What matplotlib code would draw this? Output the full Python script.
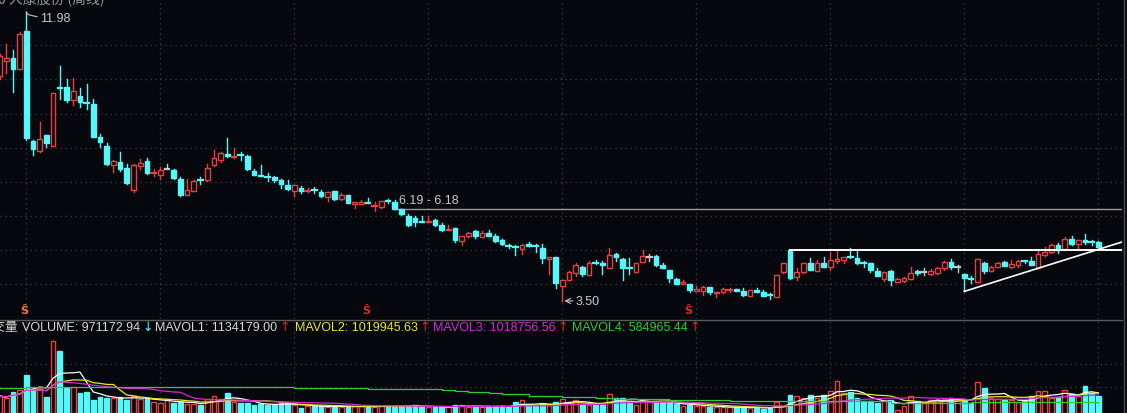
import matplotlib
matplotlib.use("Agg")
import matplotlib.pyplot as plt
from matplotlib.patches import Rectangle
from matplotlib.lines import Line2D
import numpy as np
import pandas as pd

plt.rcParams['font.family'] = ['Liberation Sans', 'Noto Sans CJK SC', 'DejaVu Sans']

# weekly candles, oldest first (yuan)
opens = [10.09, 10.53, 10.62, 10.32, 11.42, 8.19, 7.89, 8.36, 8.04, 9.79,
         9.78, 9.39, 9.51, 9.32, 9.29, 8.31, 8.05, 7.48, 7.58, 7.41,
         6.77, 7.46, 7.62, 7.25, 7.19, 7.38, 7.35, 7.09, 6.60, 6.74,
         7.07, 7.04, 7.48, 7.63, 7.82, 7.70, 7.78, 7.76, 7.30, 7.21,
         7.15, 7.14, 7.06, 6.91, 6.74, 6.81, 6.71, 6.77, 6.71, 6.54,
         6.73, 6.50, 6.62, 6.35, 6.35, 6.38, 6.29, 6.26, 6.44, 6.40,
         6.21, 6.00, 5.94, 5.86, 5.81, 5.88, 5.74, 5.57, 5.64, 5.27,
         5.40, 5.54, 5.39, 5.50, 5.42, 5.29, 5.13, 5.08, 5.01, 5.17,
         5.12, 5.05, 4.74, 4.78, 3.95, 4.10, 4.31, 4.49, 4.27, 4.63,
         4.61, 4.47, 4.88, 4.74, 4.47, 4.34, 4.64, 4.80, 4.82, 4.54,
         4.42, 4.13, 4.00, 4.00, 3.80, 3.80, 3.90, 3.72, 3.77, 3.81,
         3.85, 3.80, 3.65, 3.82, 3.77, 3.69, 3.62, 4.36, 5.00, 4.21,
         4.34, 4.62, 4.39, 4.62, 4.51, 4.68, 4.70, 4.79, 4.76, 4.63,
         4.62, 4.39, 4.15, 4.39, 4.06, 4.09, 4.14, 4.37, 4.36, 4.29,
         4.32, 4.46, 4.64, 4.51, 4.29, 4.15, 4.06, 4.60, 4.39, 4.51,
         4.64, 4.49, 4.54, 4.67, 4.66, 4.47, 4.84, 4.93, 5.14, 5.01,
         5.33, 5.16, 5.30, 5.25, 5.24]
highs = [10.75, 11.03, 10.85, 11.38, 11.98, 8.22, 8.74, 8.38, 9.60, 10.38,
         10.01, 10.03, 9.76, 9.88, 9.42, 8.41, 8.12, 7.63, 7.87, 7.52,
         7.52, 7.67, 7.68, 7.38, 7.43, 7.51, 7.38, 7.14, 7.09, 7.05,
         7.13, 7.52, 7.94, 7.87, 8.29, 7.99, 7.87, 7.77, 7.38, 7.48,
         7.24, 7.17, 7.09, 7.04, 6.89, 6.88, 6.81, 6.84, 6.77, 6.70,
         6.73, 6.68, 6.62, 6.40, 6.45, 6.52, 6.40, 6.43, 6.50, 6.45,
         6.21, 6.06, 6.00, 6.00, 6.00, 5.91, 5.78, 5.74, 5.64, 5.40,
         5.53, 5.59, 5.56, 5.57, 5.47, 5.32, 5.18, 5.13, 5.16, 5.23,
         5.18, 5.18, 4.80, 4.80, 4.10, 4.38, 4.61, 4.52, 4.67, 4.69,
         4.67, 5.06, 4.91, 4.76, 4.76, 4.62, 5.00, 4.88, 4.85, 4.61,
         4.42, 4.17, 4.10, 4.00, 3.95, 3.93, 3.90, 3.77, 3.88, 3.88,
         3.86, 3.87, 3.82, 3.88, 3.81, 3.73, 4.27, 4.62, 5.00, 4.48,
         4.62, 4.75, 4.69, 4.80, 4.93, 5.00, 4.79, 5.06, 4.96, 4.66,
         4.62, 4.46, 4.35, 4.42, 4.17, 4.20, 4.49, 4.41, 4.46, 4.44,
         4.49, 4.68, 4.73, 4.54, 4.30, 4.22, 4.73, 4.64, 4.53, 4.64,
         4.68, 4.69, 4.69, 4.70, 4.80, 5.00, 5.07, 5.16, 5.21, 5.38,
         5.40, 5.28, 5.45, 5.28, 5.26]
lows = [10.00, 10.18, 9.62, 10.30, 8.22, 7.77, 7.87, 8.03, 8.04, 9.42,
        9.35, 9.26, 9.20, 9.12, 8.30, 8.02, 7.48, 7.29, 7.30, 6.93,
        6.71, 7.38, 7.23, 7.17, 7.09, 7.38, 7.07, 6.58, 6.60, 6.73,
        6.94, 7.01, 7.46, 7.58, 7.73, 7.70, 7.65, 7.34, 7.19, 7.16,
        7.01, 7.00, 6.81, 6.77, 6.57, 6.68, 6.71, 6.68, 6.55, 6.42,
        6.45, 6.45, 6.36, 6.23, 6.35, 6.37, 6.15, 6.23, 6.38, 6.20,
        6.03, 5.69, 5.69, 5.81, 5.81, 5.69, 5.54, 5.57, 5.24, 5.13,
        5.38, 5.36, 5.37, 5.42, 5.24, 5.13, 5.05, 4.86, 4.88, 5.10,
        4.95, 4.62, 4.29, 3.87, 3.50, 4.10, 4.24, 4.23, 4.27, 4.59,
        4.29, 4.47, 4.68, 4.12, 4.29, 4.34, 4.64, 4.68, 4.53, 4.46,
        4.05, 4.00, 4.00, 3.76, 3.80, 3.68, 3.71, 3.62, 3.74, 3.77,
        3.80, 3.65, 3.65, 3.77, 3.65, 3.55, 3.62, 4.32, 4.14, 4.10,
        4.33, 4.41, 4.39, 4.49, 4.41, 4.62, 4.62, 4.77, 4.58, 4.49,
        4.36, 4.22, 4.08, 3.97, 4.06, 4.06, 4.14, 4.26, 4.26, 4.26,
        4.29, 4.41, 4.44, 4.36, 3.78, 4.02, 4.06, 4.33, 4.39, 4.51,
        4.52, 4.46, 4.51, 4.60, 4.54, 4.47, 4.82, 4.90, 4.90, 5.01,
        5.13, 5.04, 5.17, 5.14, 5.09]
closes = [10.68, 10.62, 10.30, 11.33, 8.28, 7.95, 8.26, 8.12, 9.59, 9.74,
          9.39, 9.67, 9.34, 9.30, 8.31, 8.15, 7.51, 7.62, 7.36, 6.97,
          7.50, 7.55, 7.24, 7.27, 7.33, 7.38, 7.12, 6.62, 6.77, 7.01,
          7.05, 7.40, 7.68, 7.84, 7.74, 7.73, 7.76, 7.36, 7.21, 7.16,
          7.13, 7.06, 6.94, 6.79, 6.89, 6.72, 6.74, 6.75, 6.58, 6.70,
          6.50, 6.62, 6.37, 6.40, 6.40, 6.37, 6.31, 6.43, 6.43, 6.21,
          6.06, 5.72, 5.83, 5.81, 5.86, 5.74, 5.59, 5.62, 5.30, 5.40,
          5.50, 5.40, 5.50, 5.42, 5.27, 5.16, 5.11, 5.06, 5.15, 5.11,
          5.10, 4.76, 4.78, 4.02, 4.10, 4.34, 4.54, 4.29, 4.61, 4.61,
          4.54, 4.85, 4.79, 4.47, 4.45, 4.62, 4.82, 4.80, 4.56, 4.46,
          4.17, 4.01, 4.05, 3.82, 3.85, 3.90, 3.75, 3.77, 3.85, 3.83,
          3.80, 3.67, 3.82, 3.77, 3.65, 3.67, 4.26, 4.61, 4.17, 4.35,
          4.62, 4.42, 4.62, 4.51, 4.71, 4.73, 4.78, 4.77, 4.61, 4.61,
          4.42, 4.24, 4.35, 4.10, 4.14, 4.17, 4.32, 4.31, 4.36, 4.39,
          4.47, 4.64, 4.51, 4.51, 4.17, 4.13, 4.73, 4.37, 4.49, 4.60,
          4.52, 4.57, 4.67, 4.65, 4.54, 4.88, 4.95, 5.13, 4.99, 5.33,
          5.17, 5.28, 5.22, 5.23, 5.09]
# weekly volume, 10k lots
volumes = [95, 84, 118, 129, 213, 129, 140, 90, 403, 347,
           140, 146, 112, 118, 73, 90, 84, 84, 90, 73,
           95, 78, 78, 62, 56, 78, 56, 62, 50, 50,
           45, 78, 95, 78, 112, 62, 56, 56, 45, 50,
           45, 45, 56, 56, 45, 28, 39, 39, 39, 34,
           39, 34, 34, 39, 39, 34, 34, 41, 38, 38,
           38, 38, 45, 32, 32, 32, 35, 32, 45, 45,
           32, 38, 32, 38, 38, 38, 32, 60, 73, 41,
           41, 50, 45, 60, 78, 60, 73, 45, 45, 45,
           45, 106, 82, 82, 69, 45, 69, 60, 60, 54,
           54, 50, 41, 45, 41, 41, 32, 32, 32, 32,
           32, 34, 28, 28, 24, 28, 60, 41, 102, 94,
           84, 102, 84, 102, 125, 181, 112, 118, 84, 66,
           66, 56, 69, 74, 18, 41, 97, 66, 56, 71,
           71, 78, 84, 74, 74, 56, 174, 140, 84, 78,
           71, 71, 60, 69, 97, 125, 125, 84, 88, 130,
           106, 94, 153, 112, 97]
# long volume average (MAVOL4) read at the weeks where it steps
ma4_weeks = [0, 4, 44, 55, 66, 68, 70, 73, 75, 79, 82, 84, 89, 92, 100, 109, 133, 145, 164]
ma4_vals = [138, 146, 138, 134, 129, 122, 116, 110, 105, 97, 94, 88, 82, 78, 73, 66, 56, 60, 58.5]

legend_items = [("VOLUME: 971172.94", "#d8d8d8", "↓"),
                ("MAVOL1: 1134179.00", "#d8d8d8", "↑"),
                ("MAVOL2: 1019945.63", "#e6e62e", "↑"),
                ("MAVOL3: 1018756.56", "#d22ad2", "↑"),
                ("MAVOL4: 584965.44", "#2ecc2e", "↑")]

BG = "#07070e"
RED = "#e84040"
CYAN = "#54f8f8"
GRAY = "#c8c8c8"
GRID = "#3e3e46"

W, H = 1127, 414
fig = plt.figure(figsize=(W / 100, H / 100), dpi=100, facecolor=BG)
right = 1122 / W
ax = fig.add_axes([0, 1 - 320 / H, right, 320 / H], facecolor=BG)
axv = fig.add_axes([0, 0, right, 93 / H], facecolor=BG)

n = len(opens)
xlim = (0.5 / 6.7, 1122.5 / 6.7)
for a in (ax, axv):
    a.set_xlim(*xlim)
    a.set_xticks([])
    a.set_yticks([])
    for s in a.spines.values():
        s.set_visible(False)
    for gx in range(4, n, 20):
        a.axvline(gx, color=GRID, lw=0.9, ls=(0, (1, 3)), zorder=0)

ax.set_ylim(2.97, 12.36)
for gy in range(4, 12):
    ax.axhline(gy, color=GRID, lw=0.9, ls=(0, (1, 3)), zorder=0)

bw = 0.7
for i in range(n):
    o, h, l, c = opens[i], highs[i], lows[i], closes[i]
    if c > o:
        col = RED
    elif c < o:
        col = CYAN
    else:
        col = GRAY
    ax.plot([i, i], [l, h], color=col, lw=1, zorder=2)
    lo, hi = min(o, c), max(o, c)
    if hi - lo < 0.04:
        ax.plot([i - bw / 2, i + bw / 2], [(lo + hi) / 2] * 2, color=col, lw=1.6, zorder=3)
    else:
        fc = BG if col == RED else col
        ax.add_patch(Rectangle((i - bw / 2, lo), bw, hi - lo, facecolor=fc,
                               edgecolor=col, lw=1, zorder=3))
    vcol = CYAN if c < o else RED
    vfc = BG if vcol == RED else vcol
    axv.add_patch(Rectangle((i - bw / 2, 0), bw, volumes[i], facecolor=vfc,
                            edgecolor=vcol, lw=1, zorder=2))

# support / resistance drawings
ax.plot([59, xlim[1]], [6.19, 6.19], color="#9a9a9a", lw=1, zorder=1)
ax.text(59.6, 6.46, "6.19 - 6.18", color=GRAY, fontsize=9, va="center", ha="left")
ax.plot([118, xlim[1]], [5.00, 5.00], color="white", lw=1.4, zorder=4)
ax.plot([144, xlim[1]], [3.78, 5.23], color="white", lw=1.2, zorder=4)

# extreme labels
ax.plot([4, 4.3, 5.6], [11.98, 11.90, 11.84], color=GRAY, lw=0.8)
ax.text(6.0, 11.80, "11.98", color=GRAY, fontsize=9, va="center", ha="left")
ax.annotate("3.50", xy=(84.3, 3.50), xytext=(86.0, 3.50), color=GRAY, fontsize=9,
            va="center", ha="left",
            arrowprops=dict(arrowstyle="->", color=GRAY, lw=0.8, shrinkA=0, shrinkB=0))

# signal markers
for sx, scol in [(3.7, "#f07844"), (54.8, "#e02828"), (102.8, "#e02828")]:
    ax.text(sx, 3.22, "Ŝ", color=scol, fontsize=8, fontweight="bold",
            ha="center", va="center", family="DejaVu Sans")

# volume averages
vol = pd.Series(volumes, dtype=float)
idx = np.arange(n)
axv.plot(idx, vol.rolling(5, min_periods=1).mean(), color="white", lw=0.9, zorder=3)
axv.plot(idx, vol.rolling(10, min_periods=1).mean(), color="#e6e62e", lw=0.9, zorder=3)
axv.plot(idx, vol.rolling(20, min_periods=1).mean(), color="#d22ad2", lw=0.9, zorder=3)
axv.plot(ma4_weeks, ma4_vals, color="#2ecc2e", lw=0.9, drawstyle="steps-post", zorder=3)
axv.set_ylim(0, 521)
for gv in (146, 274):
    axv.axhline(gv, color=GRID, lw=0.9, ls=(0, (1, 3)), zorder=0)

# panel divider and right border
fig.add_artist(Line2D([0, right], [1 - 320.5 / H] * 2, color="#5a5a5a", lw=1))
fig.add_artist(Line2D([1124 / W] * 2, [0, 1], color="#4a4a4a", lw=1))

# legend row of the volume panel
ly = 1 - 328 / H
fig.text(18 / W, ly, "成交量", color="#d8d8d8", fontsize=9, ha="right", va="center")
xs = [22, 155, 295, 433, 572]
for (label, col, arr), x0 in zip(legend_items, xs):
    t = fig.text(x0 / W, ly, label, color=col, fontsize=9, ha="left", va="center")
    fig.canvas.draw()
    bb = t.get_window_extent()
    acol = CYAN if arr == "↓" else "#e02828"
    fig.text((bb.x1 + 2) / W, ly, arr, color=acol, fontsize=9, ha="left", va="center",
             family="DejaVu Sans")

# clipped window title at the top
fig.text(-2 / W, 1 + 1 / H, "0 大康股份 (周线)", color="#9a9a9a", fontsize=10,
         ha="left", va="center", family=["Noto Sans CJK SC", "DejaVu Sans"])

fig.savefig("out.png", dpi=100, facecolor=BG)
